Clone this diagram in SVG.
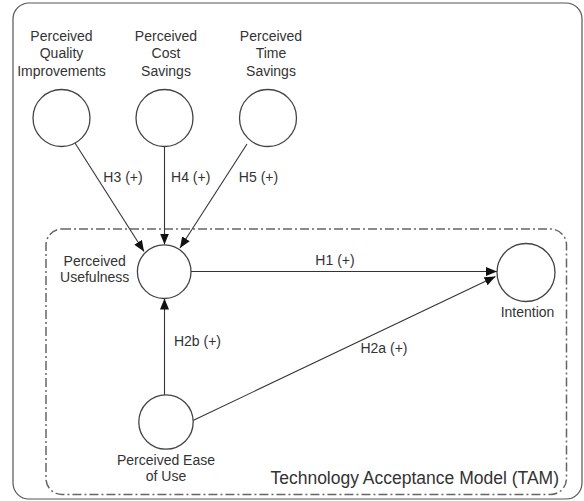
<svg xmlns="http://www.w3.org/2000/svg" width="584" height="501" viewBox="0 0 584 501">
<defs>
<marker id="arr" markerUnits="userSpaceOnUse" markerWidth="11" markerHeight="9" refX="11" refY="4.5" orient="auto">
<path d="M0,0 L11,4.5 L0,9 z" fill="#111"/>
</marker>
<style>
text{font-family:"Liberation Sans",Arial,sans-serif;font-size:14px;fill:#333;text-anchor:middle}
.node{fill:#fff;stroke:#444;stroke-width:1.3}
.conn line{stroke:#333;stroke-width:1.1;marker-end:url(#arr)}
</style>
</defs>
<rect x="13" y="3" width="569" height="496" rx="16" ry="16" fill="#fff" stroke="#555" stroke-width="1.2"/>
<g id="tam">
<rect x="46" y="229" width="520.5" height="265.5" rx="16" ry="16" fill="none" stroke="#666" stroke-width="1.5" stroke-dasharray="9 3 2 3"/>
<text x="559" y="483.5" style="font-size:17.5px;text-anchor:end">Technology Acceptance Model (TAM)</text>
</g>
<g class="conn" id="connectors">
<line x1="75" y1="143" x2="144" y2="251.5"/>
<line x1="164.5" y1="147" x2="164.5" y2="244.5"/>
<line x1="247" y1="144" x2="180" y2="248"/>
<line x1="191" y1="271.5" x2="497" y2="271.5"/>
<line x1="193" y1="420.5" x2="495.5" y2="276.5"/>
<line x1="164.5" y1="395" x2="164.5" y2="298.5"/>
<text x="123" y="182">H3 (+)</text>
<text x="190.7" y="182">H4 (+)</text>
<text x="258.5" y="182">H5 (+)</text>
<text x="335" y="265">H1 (+)</text>
<text x="384" y="352.5">H2a (+)</text>
<text x="197.5" y="346">H2b (+)</text>
</g>
<g id="pqi">
<circle class="node" cx="61.5" cy="118" r="28.5"/>
<text x="61.5" y="40.5">Perceived</text>
<text x="61.5" y="58">Quality</text>
<text x="61.5" y="75.5">Improvements</text>
</g>
<g id="pcs">
<circle class="node" cx="164.5" cy="118" r="28.5"/>
<text x="166" y="40.5">Perceived</text>
<text x="166" y="58">Cost</text>
<text x="166" y="75.5">Savings</text>
</g>
<g id="pts">
<circle class="node" cx="268" cy="118" r="28.5"/>
<text x="271" y="40.5">Perceived</text>
<text x="271" y="58">Time</text>
<text x="271" y="75.5">Savings</text>
</g>
<g id="pu">
<circle class="node" cx="164.2" cy="271.7" r="26.8"/>
<text x="94.7" y="265.5">Perceived</text>
<text x="94.7" y="282">Usefulness</text>
</g>
<g id="intention">
<circle class="node" cx="526" cy="272.5" r="29"/>
<text x="527.5" y="317">Intention</text>
</g>
<g id="peou">
<circle class="node" cx="166" cy="422" r="27.2"/>
<text x="166" y="464.5">Perceived Ease</text>
<text x="166" y="480.5">of Use</text>
</g>
</svg>
